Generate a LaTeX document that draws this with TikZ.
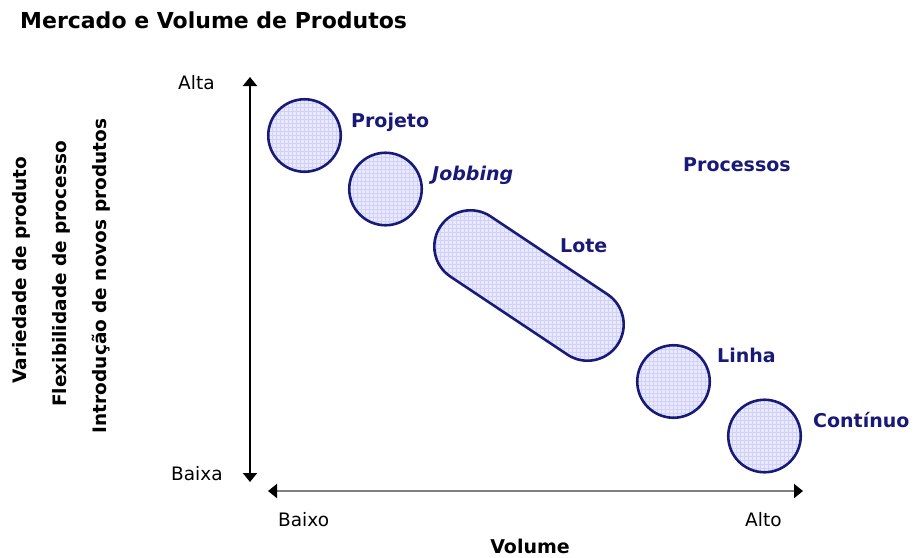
\documentclass[tikz,border=0pt]{standalone}
\usepackage{fontspec}
\setmainfont{DejaVu Sans}
\usetikzlibrary{arrows.meta}
\definecolor{navy}{RGB}{25,25,120}
\definecolor{lav}{RGB}{233,233,255}
\definecolor{gridc}{RGB}{208,208,250}
\begin{document}
\begin{tikzpicture}[x=1pt,y=-1pt,
  proc/.style={draw=navy, line width=2.6pt, fill=lav, circle, minimum size=72.5pt, inner sep=0pt,
    path picture={\draw[gridc,line width=0.5pt,step=4pt] (path picture bounding box.south west) grid (path picture bounding box.north east);}},
  lab/.style={text=navy, font=\bfseries\fontsize{19}{22}\selectfont, inner sep=0pt, anchor=base west},
  txt/.style={font=\fontsize{18.5}{22}\selectfont, inner sep=0pt, anchor=base west},
  vlab/.style={font=\bfseries\fontsize{18.5}{22}\selectfont, inner sep=0pt, anchor=base, rotate=90},
  tip/.style={Triangle[length=9pt,width=14pt,color=black]}
]
\useasboundingbox (0,0) rectangle (915,557);
% title
\node[font=\bfseries\fontsize{22}{26}\selectfont, inner sep=0pt, anchor=base west] (title) at (20,28) {Mercado e Volume de Produtos};
% axes
\coordinate (vtop) at (250,77);
\coordinate (vbot) at (250,482);
\coordinate (hleft) at (268,491);
\coordinate (hright) at (803,491);
\draw[black, line width=2pt, {Triangle[length=9pt,width=14pt]}-{Triangle[length=9pt,width=14pt]}] (vtop) -- (vbot);
\draw[gray, line width=2pt, {Triangle[length=9pt,width=14pt,color=black]}-{Triangle[length=9pt,width=14pt,color=black]}] (hleft) -- (hright);
% axis labels
\node[txt] (alta) at (178,89) {Alta};
\node[txt] (baixa) at (171,480) {Baixa};
\node[txt] (baixo) at (278,526) {Baixo};
\node[txt] (alto) at (745,526) {Alto};
\node[font=\bfseries\fontsize{19}{22}\selectfont, inner sep=0pt, anchor=base] (volume) at (530,553) {Volume};
\node[vlab] (v1) at (27,270) {Variedade de produto};
\node[vlab] (v2) at (66,274) {Flexibilidade de processo};
\node[vlab] (v3) at (106,276) {Introdução de novos produtos};
% shapes
\node[proc] (projeto) at (304.5,135.5) {};
\node[proc] (jobbing) at (385.5,189) {};
\node[proc] (linha) at (673.5,381.5) {};
\node[proc] (continuo) at (764.5,436) {};
\begin{scope}
  \path[clip, rotate around={-33.7:(529,285.5)}, rounded corners=36.2pt] (422.5,249.3) rectangle (635.5,321.7);
  \fill[lav] (400,180) rectangle (660,390);
  \draw[gridc, line width=0.5pt, step=4pt] (400,180) grid (660,390);
\end{scope}
\draw[navy, line width=2.6pt, rotate around={-33.7:(529,285.5)}, rounded corners=36.2pt] (422.5,249.3) rectangle (635.5,321.7);
\coordinate (lote) at (529,285.5);
% labels
\node[lab] (lprojeto) at (351,127) {Projeto};
\node[lab] (ljobbing) at (432,180) {\itshape Jobbing};
\node[lab] (lprocessos) at (683,171) {Processos};
\node[lab] (llote) at (560,252) {Lote};
\node[lab] (llinha) at (717,362) {Linha};
\node[lab] (lcontinuo) at (813,427) {Contínuo};
\end{tikzpicture}
\end{document}
